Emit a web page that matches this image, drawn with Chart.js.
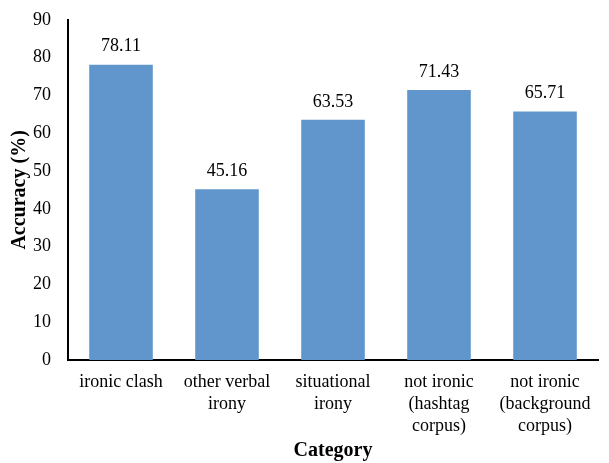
<!DOCTYPE html>
<html>
<head>
<meta charset="utf-8">
<script src="https://cdn.jsdelivr.net/npm/chart.js@4/dist/chart.umd.min.js"></script>
<style>
  html, body { margin: 0; padding: 0; background: #fff; }
  #wrap { width: 609px; height: 463px; }
</style>
</head>
<body>
<div id="wrap"><canvas id="accChart" width="609" height="463"></canvas></div>
<script>
const categories = [
  ['ironic clash'],
  ['other verbal', 'irony'],
  ['situational', 'irony'],
  ['not ironic', '(hashtag', 'corpus)'],
  ['not ironic', '(background', 'corpus)']
];
const accuracy = [78.11, 45.16, 63.53, 71.43, 65.71];
const yTicks = [0, 10, 20, 30, 40, 50, 60, 70, 80, 90];

const serif = '"Liberation Serif", "Times New Roman", serif';

// values written above each bar
const barLabels = {
  id: 'barLabels',
  afterDatasetsDraw(chart) {
    const ctx = chart.ctx;
    const meta = chart.getDatasetMeta(0);
    ctx.save();
    ctx.font = '18px ' + serif;
    ctx.fillStyle = '#000';
    ctx.textAlign = 'center';
    ctx.textBaseline = 'bottom';
    meta.data.forEach((bar, i) => {
      ctx.fillText(accuracy[i].toFixed(2), bar.x, bar.y - 9);
    });
    ctx.restore();
  }
};

new Chart('accChart', {
  type: 'bar',
  data: {
    labels: categories,
    datasets: [{
      data: accuracy,
      backgroundColor: '#6096cb',
      categoryPercentage: 0.6,
      barPercentage: 1.0
    }]
  },
  options: {
    responsive: false,
    animation: false,
    layout: { padding: { left: 8, right: 11, top: 13, bottom: 0 } },
    plugins: {
      legend: { display: false },
      tooltip: { enabled: false }
    },
    scales: {
      x: {
        grid: { display: false },
        border: { color: '#000', width: 2 },
        ticks: {
          color: '#000',
          font: { family: serif, size: 18, lineHeight: 1.22 },
          maxRotation: 0,
          autoSkip: false,
          padding: 3
        },
        title: {
          display: true,
          text: 'Category',
          color: '#000',
          font: { family: serif, size: 20, weight: 'bold' },
          padding: { top: 6, bottom: 0 }
        },
        afterFit(scale) { scale.height = 103; }
      },
      y: {
        min: 0,
        max: 90,
        afterBuildTicks(scale) { scale.ticks = yTicks.map(v => ({ value: v })); },
        grid: { display: false },
        border: { color: '#000', width: 2 },
        ticks: {
          color: '#000',
          font: { family: serif, size: 18 },
          padding: 9
        },
        title: {
          display: true,
          text: 'Accuracy (%)',
          color: '#000',
          font: { family: serif, size: 20, weight: 'bold' },
          padding: { top: 0, bottom: 4 }
        },
        afterFit(scale) { scale.width = 60; }
      }
    }
  },
  plugins: [barLabels]
});
</script>
</body>
</html>
